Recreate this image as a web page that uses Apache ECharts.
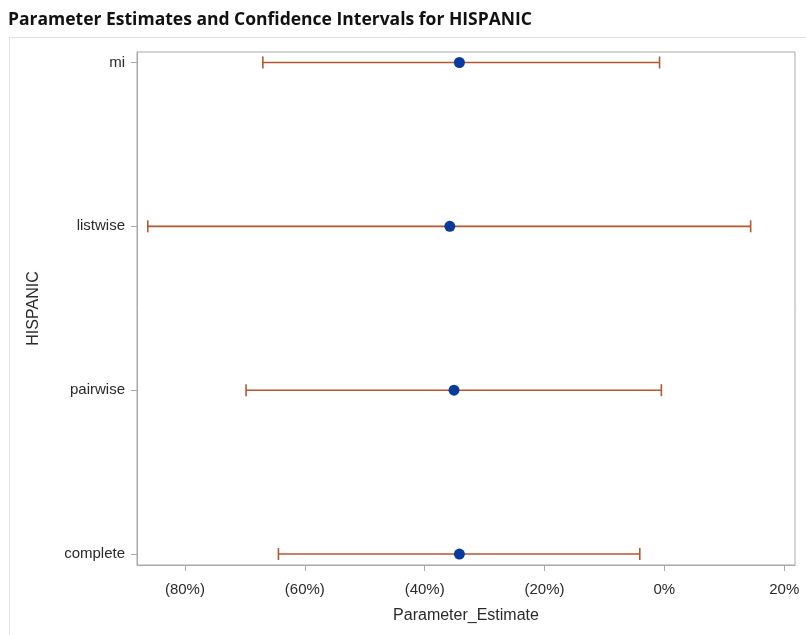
<!DOCTYPE html>
<html>
<head>
<meta charset="utf-8">
<title>Parameter Estimates and Confidence Intervals for HISPANIC</title>
<script src="https://cdn.jsdelivr.net/npm/echarts@6/dist/echarts.min.js"></script>
<style>
  html, body { margin: 0; padding: 0; background: #fff; }
  #chart { width: 806px; height: 635px; }
</style>
</head>
<body>
<div id="chart"></div>
<script>
// Missing-data methods, listed bottom to top on the vertical axis
const methods = ['complete', 'pairwise', 'listwise', 'mi'];
// Point estimates and 95% confidence limits, in percent
const estimates = [-34.2, -35.1, -35.8, -34.2];
const lowerLimits = [-64.4, -69.8, -86.2, -67.0];
const upperLimits = [-4.1, -0.5, 14.4, -0.8];
// Labelled ticks on the estimate axis
const xTicks = [-80, -60, -40, -20, 0, 20];

const chart = echarts.init(document.getElementById('chart'), null, { renderer: 'canvas' });

const font = 'Liberation Sans, Arial, sans-serif';
const frameColor = '#a9a9a9';
const barColor = '#b4572f';
const dotColor = '#0a3a9c';

const intervals = methods.map((m, i) => [i, lowerLimits[i], upperLimits[i]]);
const points = methods.map((m, i) => [estimates[i], i]);

function pctLabel(v) {
  const r = Math.round(v);
  return r < 0 ? '(' + Math.abs(r) + '%)' : r + '%';
}

chart.setOption({
  animation: false,
  backgroundColor: '#fff',
  title: {
    text: 'Parameter Estimates and Confidence Intervals for HISPANIC',
    left: 3,
    top: 6,
    textStyle: { fontFamily: 'Open Sans, sans-serif', fontWeight: 'bold', fontSize: 17.5, color: '#111' }
  },
  graphic: [
    { type: 'line', shape: { x1: 9, y1: 37.5, x2: 806, y2: 37.5 }, style: { stroke: '#e2e2e2', lineWidth: 1 } },
    { type: 'line', shape: { x1: 9.5, y1: 37, x2: 9.5, y2: 635 }, style: { stroke: '#e2e2e2', lineWidth: 1 } }
  ],
  grid: { left: 137, right: 11, top: 52, bottom: 70, show: true, borderColor: frameColor, borderWidth: 1 },
  xAxis: {
    type: 'value',
    min: -88,
    max: 21.8,
    name: 'Parameter_Estimate',
    nameLocation: 'middle',
    nameGap: 43,
    nameTextStyle: { fontFamily: font, fontSize: 16, color: '#2a2a2a' },
    splitLine: { show: false },
    axisLine: { show: true, onZero: false, lineStyle: { color: frameColor } },
    axisTick: { show: true, length: 6, customValues: xTicks, lineStyle: { color: frameColor } },
    axisLabel: {
      customValues: xTicks,
      margin: 17,
      fontFamily: font, fontSize: 15, color: '#2a2a2a',
      formatter: pctLabel
    }
  },
  yAxis: {
    type: 'value',
    min: -0.067,
    max: 3.064,
    name: 'HISPANIC',
    nameLocation: 'middle',
    nameGap: 95,
    nameTextStyle: { fontFamily: font, fontSize: 16, color: '#2a2a2a' },
    splitLine: { show: false },
    axisLine: { show: true, onZero: false, lineStyle: { color: frameColor } },
    axisTick: { show: true, length: 6, customValues: [0, 1, 2, 3], lineStyle: { color: frameColor } },
    axisLabel: {
      customValues: [0, 1, 2, 3],
      margin: 12,
      fontFamily: font, fontSize: 15, color: '#2a2a2a',
      formatter: v => methods[Math.round(v)]
    }
  },
  series: [
    {
      type: 'custom',
      data: intervals,
      encode: { x: [1, 2], y: 0 },
      renderItem: function (params, api) {
        const y = api.value(0);
        const lo = api.coord([api.value(1), y]);
        const hi = api.coord([api.value(2), y]);
        const cap = 6;
        const style = { stroke: barColor, lineWidth: 1.6 };
        return {
          type: 'group',
          children: [
            { type: 'line', shape: { x1: lo[0], y1: lo[1], x2: hi[0], y2: hi[1] }, style: style },
            { type: 'line', shape: { x1: lo[0], y1: lo[1] - cap, x2: lo[0], y2: lo[1] + cap }, style: style },
            { type: 'line', shape: { x1: hi[0], y1: hi[1] - cap, x2: hi[0], y2: hi[1] + cap }, style: style }
          ]
        };
      },
      z: 2
    },
    {
      type: 'scatter',
      data: points,
      symbol: 'circle',
      symbolSize: 11,
      itemStyle: { color: dotColor, opacity: 1 },
      z: 3
    }
  ]
});
</script>
</body>
</html>
